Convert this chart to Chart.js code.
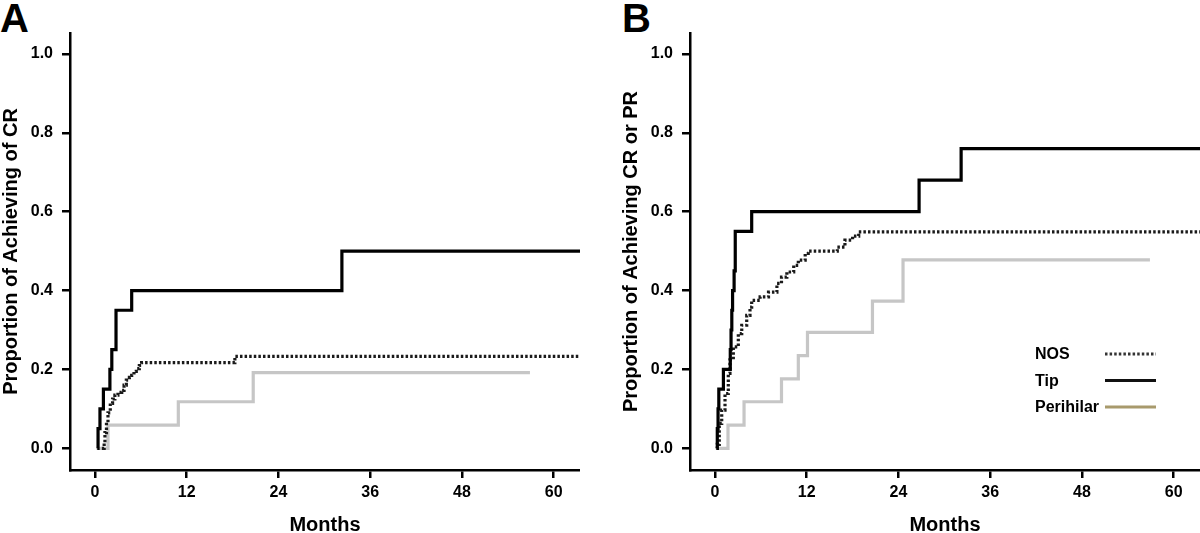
<!DOCTYPE html>
<html>
<head>
<meta charset="utf-8">
<script src="https://cdn.jsdelivr.net/npm/chart.js@4"></script>
<style>
    body {
        margin: 0;
        width: 1200px;
        height: 533px;
        overflow: hidden;
        position: relative;
        background: #fff;
        font-family: "Liberation Sans", Arial, sans-serif;
    }
    .letter {
        position: absolute;
        top: -2px;
        font-weight: bold;
        font-size: 40px;
        line-height: 40px;
        color: #000;
    }
    .wrap {
        position: absolute;
        top: 0;
        width: 580px;
        height: 533px;
    }
</style>
</head>
<body>
<div class="letter" style="left:0px;">A</div>
<div class="letter" style="left:622px;">B</div>
<div class="wrap" style="left:0px;"><canvas id="chartA" width="580" height="533"></canvas></div>
<div class="wrap" style="left:620px;"><canvas id="chartB" width="580" height="533"></canvas></div>

<script>
// --- data (months, proportion) ---
const xTicks = [0, 12, 24, 36, 48, 60];
const yTicks = [0, 0.2, 0.4, 0.6, 0.8, 1.0];
const seriesNames = ["NOS", "Tip", "Perihilar"];

// panel A : complete response
const nosA_months = [0.9, 1.2, 1.3, 1.5, 1.7, 2.0, 2.3, 2.6, 3.0, 3.5, 3.8, 4.1, 4.5, 4.8, 5.1, 5.4, 5.8, 6.1, 18.3, 63.45];
const nosA_values = [0, 0.013, 0.04, 0.065, 0.09, 0.114, 0.125, 0.135, 0.142, 0.147, 0.16, 0.173, 0.18, 0.185, 0.195, 0.202, 0.21, 0.217, 0.233, 0.233];
const tipA_months = [0.3, 0.4, 0.65, 1.1, 1.95, 2.2, 2.75, 4.8, 32.3, 63.45];
const tipA_values = [0, 0.05, 0.10, 0.15, 0.20, 0.25, 0.35, 0.40, 0.50, 0.50];
const periA_months = [0.2, 1.7, 10.9, 20.7, 56.9];
const periA_values = [0, 0.059, 0.118, 0.192, 0.192];

// panel B : complete or partial response
const nosB_months = [0.2, 0.3, 0.56, 0.88, 1.31, 1.74, 1.96, 2.4, 3.05, 3.5, 4.15, 4.58, 4.8, 5.9, 7.0, 8.1, 8.7, 9.4, 10.3, 10.9, 11.8, 12.2, 16.0, 17.0, 18.0, 18.8, 63.45];
const nosB_values = [0, 0.01, 0.063, 0.097, 0.139, 0.19, 0.224, 0.257, 0.291, 0.312, 0.337, 0.358, 0.375, 0.384, 0.396, 0.418, 0.434, 0.447, 0.464, 0.477, 0.494, 0.50, 0.51, 0.528, 0.538, 0.549, 0.549];
const tipB_months = [0.2, 0.3, 0.4, 0.5, 1.1, 2.0, 2.1, 2.2, 2.3, 2.5, 2.65, 4.8, 26.7, 32.2, 63.45];
const tipB_values = [0, 0.05, 0.10, 0.15, 0.20, 0.25, 0.30, 0.35, 0.40, 0.45, 0.55, 0.60, 0.68, 0.76, 0.76];
const periB_months = [0.1, 1.7, 3.8, 8.7, 10.9, 12.1, 20.6, 24.6, 56.9];
const periB_values = [0, 0.059, 0.118, 0.176, 0.235, 0.294, 0.373, 0.478, 0.478];

const FONT = '"Liberation Sans", Arial, sans-serif';

function toPoints(months, values) {
    const pts = [];
    for (let i = 0; i < months.length; i++) {
        pts.push({x: months[i], y: values[i]});
    }
    return pts;
}

function makeDatasets(nosM, nosV, tipM, tipV, periM, periV) {
    return [
        {label: seriesNames[0], data: toPoints(nosM, nosV), borderColor: "#1a1a1a", borderWidth: 3.2,
            borderDash: [2.5, 2.1], stepped: true, pointRadius: 0, order: 1},
        {label: seriesNames[1], data: toPoints(tipM, tipV), borderColor: "#000", borderWidth: 3.2,
            stepped: true, pointRadius: 0, order: 0},
        {label: seriesNames[2], data: toPoints(periM, periV), borderColor: "#c6c6c6", borderWidth: 3.2,
            stepped: true, pointRadius: 0, order: 2}
    ];
}

// legend drawn as "text  ----" like the original figure
const sideLegend = {
    id: "sideLegend",
    afterDraw(chart, args, opts) {
        if (!opts.show) return;
        const ctx = chart.ctx;
        ctx.save();
        ctx.font = "bold 16px " + FONT;
        ctx.textBaseline = "middle";
        ctx.textAlign = "left";
        for (let i = 0; i < seriesNames.length; i++) {
            const y = opts.top + i * opts.gap;
            ctx.fillStyle = "#000";
            ctx.fillText(seriesNames[i], opts.textX, y);
            ctx.beginPath();
            ctx.setLineDash(opts.dashes[i]);
            ctx.strokeStyle = opts.colors[i];
            ctx.lineWidth = 3;
            ctx.moveTo(opts.lineX1, y - 1);
            ctx.lineTo(opts.lineX2, y - 1);
            ctx.stroke();
        }
        ctx.restore();
    }
};

function loadChart(id, yTitle, datasets, showLegend) {
    const ctx = document.getElementById(id);
    new Chart(ctx, {
        type: "line",
        data: {datasets: datasets},
        plugins: [sideLegend],
        options: {
            responsive: false,
            animation: false,
            devicePixelRatio: 1,
            layout: {padding: {top: 33, left: 0, right: 0, bottom: 0}},
            plugins: {
                legend: {display: false},
                tooltip: {enabled: false},
                sideLegend: {
                    show: showLegend,
                    textX: 415, top: 355, gap: 26.5,
                    lineX1: 485, lineX2: 536,
                    colors: ["#333", "#111", "#a89a6c"],
                    dashes: [[2.5, 2.1], [], []]
                }
            },
            scales: {
                x: {
                    type: "linear",
                    min: -3.27,
                    max: 63.45,
                    afterBuildTicks: (scale) => { scale.ticks = xTicks.map(v => ({value: v})); },
                    afterFit: (scale) => { scale.height = 63; },
                    grid: {drawOnChartArea: false, drawTicks: true, tickLength: 8, lineWidth: 2.5, color: "#000"},
                    border: {display: true, color: "#000", width: 2.5},
                    ticks: {color: "#000", padding: 5, maxRotation: 0, font: {family: FONT, size: 16, weight: "bold"}},
                    title: {display: true, text: "Months", color: "#000", padding: {top: 0, bottom: -2},
                        font: {family: FONT, size: 20, weight: "bold", lineHeight: 1}}
                },
                y: {
                    type: "linear",
                    min: -0.055,
                    max: 1.053,
                    afterBuildTicks: (scale) => { scale.ticks = yTicks.map(v => ({value: v})); },
                    afterFit: (scale) => { scale.width = 70; },
                    grid: {drawOnChartArea: false, drawTicks: true, tickLength: 8, lineWidth: 2.5, color: "#000"},
                    border: {display: true, color: "#000", width: 2.5},
                    ticks: {color: "#000", padding: 9, callback: (v) => v.toFixed(1),
                        font: {family: FONT, size: 16, weight: "bold"}},
                    title: {display: true, text: yTitle, color: "#000", padding: {top: 1, bottom: 0},
                        font: {family: FONT, size: 20, weight: "bold", lineHeight: 1}}
                }
            }
        }
    });
}

window.onload = (event) => {
    loadChart("chartA", "Proportion of Achieving of CR",
        makeDatasets(nosA_months, nosA_values, tipA_months, tipA_values, periA_months, periA_values), false);
    loadChart("chartB", "Proportion of Achieving CR or PR",
        makeDatasets(nosB_months, nosB_values, tipB_months, tipB_values, periB_months, periB_values), true);
};
</script>
</body>
</html>
